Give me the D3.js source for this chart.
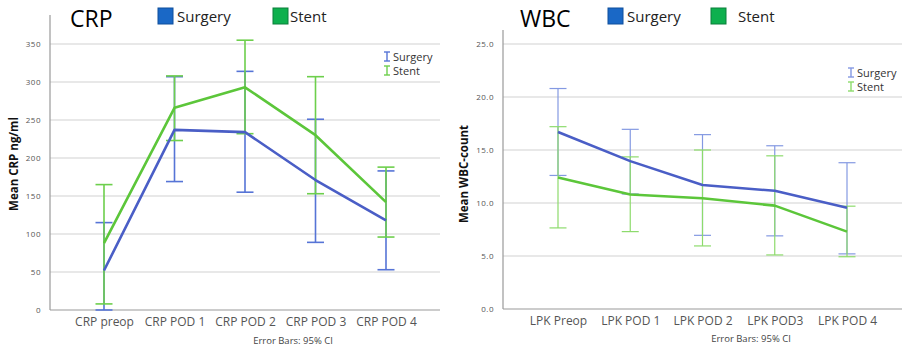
<!DOCTYPE html>
<html lang="en">
<head>
  <meta charset="UTF-8">
  <title>CRP and WBC</title>
  <script src="https://d3js.org/d3.v7.min.js"></script>
  <style>
    body { margin: 0; background: #fff; }
    text { font-family: "Open Sans", "DejaVu Sans", sans-serif; }
    .grid line { stroke: #e1e1e1; stroke-width: 1.5; }
    .tick text { fill: #555; }
  </style>
</head>
<body>
<svg width="903" height="351"></svg>
<script>
  // data
  const crpCats = ["CRP preop", "CRP POD 1", "CRP POD 2", "CRP POD 3", "CRP POD 4"];
  const crpSurgery = [52, 237, 234, 171, 118];
  const crpSurgeryLo = [0, 169, 155, 89, 53];
  const crpSurgeryHi = [115, 307, 314, 251, 183];
  const crpStent = [88, 266, 293, 230, 142];
  const crpStentLo = [8, 223, 232, 153, 96];
  const crpStentHi = [165, 308, 355, 307, 188];
  const crpTicks = [0, 50, 100, 150, 200, 250, 300, 350];

  const wbcCats = ["LPK Preop", "LPK POD 1", "LPK POD 2", "LPK POD3", "LPK POD 4"];
  const wbcSurgery = [16.7, 13.95, 11.7, 11.15, 9.55];
  const wbcSurgeryLo = [12.6, 10.85, 6.95, 6.9, 5.2];
  const wbcSurgeryHi = [20.8, 16.95, 16.45, 15.4, 13.8];
  const wbcStent = [12.4, 10.8, 10.45, 9.75, 7.3];
  const wbcStentLo = [7.65, 7.3, 5.95, 5.1, 4.93];
  const wbcStentHi = [17.2, 14.35, 15.0, 14.45, 9.7];
  const wbcTicks = [0, 5, 10, 15, 20, 25];

  const svg = d3.select("svg");

  function panel(opt) {
    const g = svg.append("g");
    const x = d3.scalePoint().domain(opt.cats).range([opt.left + opt.pad, opt.right - opt.pad]);
    const y = d3.scaleLinear().domain([0, opt.max]).range([opt.bottom, opt.top]);

    // gridlines
    g.append("g").attr("class", "grid")
      .selectAll("line").data(opt.ticks.slice(1)).enter().append("line")
      .attr("x1", opt.left).attr("x2", opt.right)
      .attr("y1", d => y(d)).attr("y2", d => y(d));

    // y axis
    const ya = g.append("g")
      .attr("transform", "translate(" + opt.left + ",0)")
      .call(d3.axisLeft(y).tickValues(opt.ticks).tickSize(0).tickPadding(9).tickFormat(opt.fmt));
    ya.select(".domain").remove();
    ya.selectAll("text").attr("font-size", "8px").attr("letter-spacing", "0.5px");
    g.append("line").attr("x1", opt.left).attr("x2", opt.left)
      .attr("y1", opt.axisTop).attr("y2", opt.bottom)
      .attr("stroke", "#999").attr("stroke-width", 1.2);

    // x axis
    const xa = g.append("g")
      .attr("transform", "translate(0," + opt.bottom + ")")
      .call(d3.axisBottom(x).tickSize(0).tickPadding(7));
    xa.select(".domain").remove();
    xa.selectAll("text").attr("font-size", "12px").attr("fill", "#333");
    g.append("line").attr("x1", opt.left).attr("x2", opt.right)
      .attr("y1", opt.bottom).attr("y2", opt.bottom)
      .attr("stroke", "#999").attr("stroke-width", 1.2);

    // y title
    g.append("text")
      .attr("transform", "translate(" + opt.ytX + "," + opt.ytY + ") rotate(-90)")
      .attr("text-anchor", "middle").attr("font-size", "11.5px").attr("font-weight", "bold")
      .attr("fill", "#111").text(opt.ytitle);

    // footnote
    g.append("text").attr("x", opt.noteX).attr("y", opt.noteY)
      .attr("text-anchor", "middle").attr("font-size", "9.5px").attr("fill", "#444")
      .text("Error Bars: 95% CI");

    const series = [
      { v: opt.s1, lo: opt.s1lo, hi: opt.s1hi, line: "#4a5ec6", bar: opt.bar1 },
      { v: opt.s2, lo: opt.s2lo, hi: opt.s2hi, line: "#5cc63a", bar: opt.bar2 }
    ];

    series.forEach(function(s) {
      const eb = g.append("g").attr("stroke", s.bar).attr("stroke-width", opt.barW);
      opt.cats.forEach(function(c, i) {
        eb.append("line").attr("x1", x(c)).attr("x2", x(c))
          .attr("y1", y(s.lo[i])).attr("y2", y(s.hi[i]));
        eb.append("line").attr("x1", x(c) - 8.5).attr("x2", x(c) + 8.5)
          .attr("y1", y(s.lo[i])).attr("y2", y(s.lo[i]));
        eb.append("line").attr("x1", x(c) - 8.5).attr("x2", x(c) + 8.5)
          .attr("y1", y(s.hi[i])).attr("y2", y(s.hi[i]));
      });
    });
    series.forEach(function(s) {
      g.append("path")
        .datum(s.v)
        .attr("fill", "none").attr("stroke", s.line).attr("stroke-width", 2.6)
        .attr("stroke-linejoin", "round")
        .attr("d", d3.line().x((d, i) => x(opt.cats[i])).y(d => y(d)));
    });

    // inner legend: small I-beam symbol plus label
    [["Surgery", opt.bar1], ["Stent", opt.bar2]].forEach(function(l, i) {
      const ly = opt.legY + i * 14;
      const sym = g.append("g").attr("stroke", l[1]).attr("stroke-width", 1.4);
      sym.append("line").attr("x1", opt.legX + 3).attr("x2", opt.legX + 3)
        .attr("y1", ly - 9).attr("y2", ly);
      sym.append("line").attr("x1", opt.legX).attr("x2", opt.legX + 6)
        .attr("y1", ly - 9).attr("y2", ly - 9);
      sym.append("line").attr("x1", opt.legX).attr("x2", opt.legX + 6)
        .attr("y1", ly).attr("y2", ly);
      g.append("text").attr("x", opt.legX + 9).attr("y", ly)
        .attr("font-size", "11px").attr("fill", "#333").text(l[0]);
    });

    // title and top legend
    g.append("text").attr("x", opt.titleX).attr("y", 27)
      .attr("font-size", "23px").attr("fill", "#000").text(opt.title);
    [["Surgery", "#1a68c6", "#0f4f9c", opt.sq1], ["Stent", "#0eb04e", "#0a7f3a", opt.sq2]].forEach(function(l) {
      g.append("rect").attr("x", l[3]).attr("y", 8).attr("width", 15).attr("height", 16)
        .attr("fill", l[1]).attr("stroke", l[2]).attr("stroke-width", 1);
      g.append("text").attr("x", l[3] + (l[0] === "Stent" ? opt.stentGap : 19)).attr("y", 22)
        .attr("font-size", "15px").attr("fill", "#222").text(l[0]);
    });
  }

  panel({
    cats: crpCats, ticks: crpTicks, max: 350, fmt: d3.format("d"),
    left: 50, right: 440, pad: 54, top: 44, bottom: 310, axisTop: 15,
    s1: crpSurgery, s1lo: crpSurgeryLo, s1hi: crpSurgeryHi,
    s2: crpStent, s2lo: crpStentLo, s2hi: crpStentHi,
    bar1: "#5674d6", bar2: "#6dcf4c", barW: 1.6,
    ytitle: "Mean CRP ng/ml", ytX: 18, ytY: 164,
    noteX: 293, noteY: 344,
    legX: 384, legY: 61,
    title: "CRP", titleX: 70, sq1: 158, sq2: 273, stentGap: 17
  });

  panel({
    cats: wbcCats, ticks: wbcTicks, max: 25, fmt: d3.format(".1f"),
    left: 503, right: 902, pad: 55, top: 44, bottom: 309, axisTop: 30,
    s1: wbcSurgery, s1lo: wbcSurgeryLo, s1hi: wbcSurgeryHi,
    s2: wbcStent, s2lo: wbcStentLo, s2hi: wbcStentHi,
    bar1: "#8499e2", bar2: "#8ddb6c", barW: 1.2,
    ytitle: "Mean WBC-count", ytX: 468, ytY: 174,
    noteX: 751, noteY: 342,
    legX: 848, legY: 77,
    title: "WBC", titleX: 520, sq1: 608, sq2: 711, stentGap: 27
  });
</script>
</body>
</html>
